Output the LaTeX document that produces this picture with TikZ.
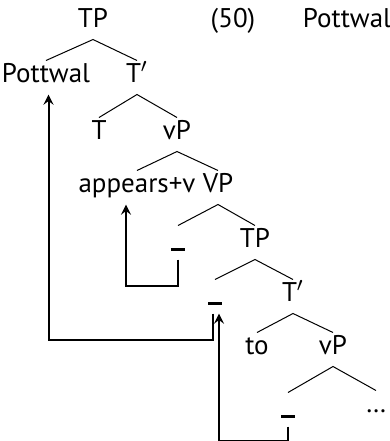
\documentclass[tikz,border=0pt]{standalone}
\usepackage{fontspec}
\setmainfont{PT Sans}
\usepackage{tikz}

\begin{document}
\begin{tikzpicture}[x=0.4pt,y=-0.4pt,
  word/.style={anchor=base,font=\fontsize{10.8}{13}\selectfont,inner xsep=0pt,inner ysep=2.4pt,text height=6pt,text depth=2.4pt},
  trace/.style={word},
  branch/.style={line width=0.4pt},
  move/.style={line width=0.8pt,-stealth}]
\useasboundingbox (0,0) rectangle (389,441);

% the tree
\node[word] (tp) at (93,27) {TP};
\node[word] (ex) at (233,27) {(50)};
\node[word] (gloss) at (347,27) {Pottwal};
\node[word] (pottwal) at (46,82) {Pottwal};
\node[word] (tbar) at (137,82) {T$'$};
\node[word] (t) at (99,139) {T};
\node[word] (vp) at (177,139) {vP};
\node[word] (av) at (137,192) {appears+v};
\node[word] (VP) at (218,192) {VP};
\node[trace] (t1) at (178,247) {\rule[-1.4pt]{5.6pt}{1.2pt}};
\node[word] (tpb) at (255,247) {TP};
\node[trace] (t2) at (215,301) {\rule[-1.4pt]{5.6pt}{1.2pt}};
\node[word] (tbarb) at (293,301) {T$'$};
\node[word] (to) at (257,354) {to};
\node[word] (vpb) at (333,354) {vP};
\node[trace] (t3) at (288,414) {\rule[-1.4pt]{5.6pt}{1.2pt}};
\node[word] (dots) at (376,412) {\dots};

\draw[branch] (pottwal.north) -- (tp.south) -- (tbar.north);
\draw[branch] (t.north) -- (tbar.south) -- (vp.north);
\draw[branch] (av.north) -- (vp.south) -- (VP.north);
\draw[branch] (t1.north) -- (VP.south) -- (tpb.north);
\draw[branch] (t2.north) -- (tpb.south) -- (tbarb.north);
\draw[branch] (to.north) -- (tbarb.south) -- (vpb.north);
\draw[branch] (t3.north) -- (vpb.south) -- (dots.north);

% movement arrows
\draw[move] (t1.south) -- ++(0,26) -| ([xshift=-4.4pt]av.south);
\draw[move] ([xshift=-1pt]t2.south) -- ++(0,26) -| ([xshift=1pt]pottwal.south);
\draw[move] (t3.south) -- ++(0,14) -| ([xshift=1.6pt]t2.south);
\end{tikzpicture}
\end{document}
